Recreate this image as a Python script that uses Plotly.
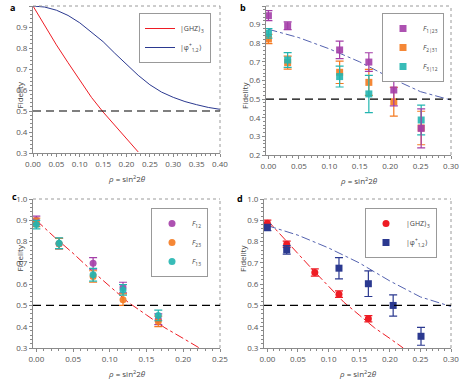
import plotly.graph_objects as go

W, H = 463, 379

# ---------------- data ----------------
# panel a (theory curves)
a_ghz_rho = [0, 0.025, 0.05, 0.075, 0.10, 0.125, 0.15, 0.175, 0.20, 0.225]
a_ghz_F = [1.0, 0.905, 0.815, 0.73, 0.645, 0.565, 0.495, 0.43, 0.37, 0.305]
a_phi_rho = [0, 0.025, 0.05, 0.075, 0.10, 0.125, 0.15, 0.175, 0.20, 0.225,
             0.25, 0.275, 0.30, 0.325, 0.35, 0.375, 0.40]
a_phi_F = [1.0, 0.995, 0.98, 0.955, 0.92, 0.875, 0.83, 0.775, 0.72, 0.67,
           0.625, 0.59, 0.565, 0.545, 0.53, 0.517, 0.508]

# panel b
b_rho = [0.0, 0.0316, 0.117, 0.165, 0.206, 0.251]
b_F1 = [0.948, 0.894, 0.764, 0.699, 0.549, 0.343]
b_F1_err = [0.027, 0.021, 0.047, 0.05, 0.085, 0.105]
b_F2 = [0.823, 0.696, 0.644, 0.590, 0.486, 0.345]
b_F2_err = [0.025, 0.035, 0.06, 0.07, 0.077, 0.09]
b_rho3 = [0.0, 0.0316, 0.117, 0.165, 0.251]
b_F3 = [0.853, 0.710, 0.621, 0.528, 0.388]
b_F3_err = [0.025, 0.04, 0.056, 0.1, 0.08]
b_th_rho = [0, 0.05, 0.10, 0.15, 0.20, 0.25, 0.30]
b_th_F = [0.875, 0.83, 0.77, 0.70, 0.615, 0.54, 0.495]

# panel c
c_rho = [0.0, 0.031, 0.0773, 0.118, 0.166]
c_F12 = [0.90, 0.79, 0.698, 0.584, 0.435]
c_F12_err = [0.02, 0.025, 0.027, 0.025, 0.025]
c_F23 = [0.89, 0.79, 0.636, 0.527, 0.425]
c_F23_err = [0.02, 0.025, 0.027, 0.027, 0.025]
c_F13 = [0.88, 0.792, 0.644, 0.573, 0.453]
c_F13_err = [0.02, 0.025, 0.03, 0.025, 0.025]
cd_th_rho = [0, 0.025, 0.05, 0.075, 0.10, 0.125, 0.15, 0.175, 0.20, 0.222]
cd_th_F = [0.9, 0.82, 0.745, 0.665, 0.59, 0.515, 0.455, 0.395, 0.345, 0.3]

# panel d
d_ghz_rho = [0.0, 0.0316, 0.0775, 0.117, 0.165]
d_ghz_F = [0.886, 0.7875, 0.655, 0.553, 0.4375]
d_ghz_err = [0.015, 0.015, 0.017, 0.015, 0.015]
d_phi_rho = [0.0, 0.0316, 0.117, 0.165, 0.2055, 0.251]
d_phi_F = [0.866, 0.761, 0.675, 0.602, 0.50, 0.355]
d_phi_err = [0.015, 0.02, 0.05, 0.06, 0.05, 0.042]

# ---------------- styles ----------------
PURPLE = "#a43ea8"
ORANGE = "#f47a20"
CYAN = "#22b5b0"
RED = "#ee1c24"
NAVY = "#2b3990"
LBLUE = "#5563b0"
FONT = "Open Sans"

fig = go.Figure()

def px(x):
    return x / W

def py(y):
    return 1 - y / H

panels = {
    "": dict(x=(33, 220), y=(6, 153), xr=[0, 0.4], yr=[0.3, 1.0]),
    "2": dict(x=(266, 451), y=(6, 155), xr=[-0.004, 0.3], yr=[0.2, 1.0]),
    "3": dict(x=(33, 220), y=(199, 348), xr=[-0.0045, 0.25], yr=[0.3, 1.0]),
    "4": dict(x=(264, 451), y=(199, 348), xr=[-0.0055, 0.3], yr=[0.3, 1.0]),
}

ax_common = dict(showline=True, linecolor="#8a8a8a", linewidth=1, ticks="outside",
                 ticklen=3, tickcolor="#8a8a8a", showgrid=False, zeroline=False,
                 tickfont=dict(family=FONT, size=8, color="#555555"),
                 minor=dict(ticks="outside", ticklen=2, tickcolor="#8a8a8a"))

layout = dict(width=W, height=H, margin=dict(l=0, r=0, t=0, b=0, autoexpand=False),
              plot_bgcolor="white", paper_bgcolor="white", showlegend=True)
for k, p in panels.items():
    layout["xaxis" + k] = dict(domain=[px(p["x"][0]), px(p["x"][1])], range=p["xr"],
                               anchor="y" + k, dtick=0.05, tickformat=".2f", **ax_common)
    layout["yaxis" + k] = dict(domain=[py(p["y"][1]), py(p["y"][0])], range=p["yr"],
                               anchor="x" + k, dtick=0.1, tickformat=".1f", **ax_common)
fig.update_layout(**layout)

shapes = []
annotations = []
for k, p in panels.items():
    x0, x1 = px(p["x"][0]), px(p["x"][1])
    y0, y1 = py(p["y"][1]), py(p["y"][0])
    # dotted top and right frame
    shapes.append(dict(type="line", xref="paper", yref="paper", x0=x0, x1=x1, y0=y1, y1=y1,
                       line=dict(color="#9a9a9a", width=1, dash="dot")))
    shapes.append(dict(type="line", xref="paper", yref="paper", x0=x1, x1=x1, y0=y0, y1=y1,
                       line=dict(color="#9a9a9a", width=1, dash="dot")))
    # dashed 0.5 line
    shapes.append(dict(type="line", xref="x%s domain" % k if k else "x domain",
                       yref="y" + k, x0=0, x1=1, y0=0.5, y1=0.5,
                       line=dict(color="black", width=1.2, dash="8px,5px")))
    # axis titles
    annotations.append(dict(text="Fidelity", xref="paper", yref="paper", x=x0 - 22 / W,
                            y=(y0 + y1) / 2, textangle=-90, showarrow=False,
                            font=dict(family=FONT, size=8, color="#444444")))
    annotations.append(dict(text="<i>ρ</i> = sin<sup>2</sup>2<i>θ</i>", xref="paper", yref="paper",
                            x=(x0 + x1) / 2, y=y0 - 25 / H, showarrow=False,
                            xanchor="center", yanchor="middle",
                            font=dict(family=FONT, size=8, color="#444444")))

for letter, (lx, ly) in zip("abcd", [(12, 7), (243, 7), (14, 196), (240, 198)]):
    annotations.append(dict(text="<b>%s</b>" % letter, xref="paper", yref="paper",
                            x=px(lx), y=py(ly), showarrow=False, xanchor="center", yanchor="middle",
                            font=dict(family=FONT, size=9, color="black")))

fig.update_layout(shapes=shapes, annotations=annotations)

# ---------------- traces ----------------
# panel a
fig.add_trace(go.Scatter(x=a_ghz_rho, y=a_ghz_F, mode="lines", line=dict(color=RED, width=1),
                         name="|GHZ⟩<sub>3</sub>", xaxis="x", yaxis="y", legend="legend"))
fig.add_trace(go.Scatter(x=a_phi_rho, y=a_phi_F, mode="lines", line=dict(color=NAVY, width=1),
                         name="|φ<sup>+</sup><sub>1,2</sub>⟩", xaxis="x", yaxis="y", legend="legend"))

# panel b
fig.add_trace(go.Scatter(x=b_th_rho, y=b_th_F, mode="lines", line=dict(color=LBLUE, width=1, dash="dashdot"),
                         showlegend=False, xaxis="x2", yaxis="y2"))
def eb(err, color):
    return dict(type="data", array=err, visible=True, color=color, thickness=1.2, width=4)

for xs, ys, es, col, nm, rk in [(b_rho, b_F2, b_F2_err, ORANGE, "<i>F</i><sub>2|31</sub>", 2),
                                (b_rho3, b_F3, b_F3_err, CYAN, "<i>F</i><sub>3|12</sub>", 3),
                                (b_rho, b_F1, b_F1_err, PURPLE, "<i>F</i><sub>1|23</sub>", 1)]:
    fig.add_trace(go.Scatter(x=xs, y=ys, mode="markers", error_y=eb(es, col),
                             marker=dict(symbol="square", size=7, color=col, opacity=0.9),
                             name=nm, legendrank=rk, xaxis="x2", yaxis="y2", legend="legend2"))

# panel c
fig.add_trace(go.Scatter(x=cd_th_rho, y=cd_th_F, mode="lines", line=dict(color=RED, width=1, dash="dashdot"),
                         showlegend=False, xaxis="x3", yaxis="y3"))
for ys, es, col, nm in [(c_F12, c_F12_err, PURPLE, "<i>F</i><sub>12</sub>"),
                        (c_F23, c_F23_err, ORANGE, "<i>F</i><sub>23</sub>"),
                        (c_F13, c_F13_err, CYAN, "<i>F</i><sub>13</sub>")]:
    fig.add_trace(go.Scatter(x=c_rho, y=ys, mode="markers", error_y=eb(es, col),
                             marker=dict(symbol="circle", size=7, color=col, opacity=0.9),
                             name=nm, xaxis="x3", yaxis="y3", legend="legend3"))

# panel d
fig.add_trace(go.Scatter(x=cd_th_rho, y=cd_th_F, mode="lines", line=dict(color=RED, width=1, dash="dashdot"),
                         showlegend=False, xaxis="x4", yaxis="y4"))
fig.add_trace(go.Scatter(x=b_th_rho, y=b_th_F, mode="lines", line=dict(color=LBLUE, width=1, dash="dashdot"),
                         showlegend=False, xaxis="x4", yaxis="y4"))
fig.add_trace(go.Scatter(x=d_ghz_rho, y=d_ghz_F, mode="markers", error_y=eb(d_ghz_err, RED),
                         marker=dict(symbol="circle", size=7, color=RED),
                         name="|GHZ⟩<sub>3</sub>", xaxis="x4", yaxis="y4", legend="legend4"))
fig.add_trace(go.Scatter(x=d_phi_rho, y=d_phi_F, mode="markers", error_y=eb(d_phi_err, NAVY),
                         marker=dict(symbol="square", size=7, color=NAVY),
                         name="|φ<sup>+</sup><sub>1,2</sub>⟩", xaxis="x4", yaxis="y4", legend="legend4"))

leg_common = dict(bgcolor="white", bordercolor="#999999", borderwidth=1,
                  font=dict(family=FONT, size=7, color="#444444"),
                  xanchor="right", yanchor="top", itemwidth=30, tracegroupgap=0)
fig.update_layout(
    legend=dict(x=px(211), y=py(13), **leg_common),
    legend2=dict(x=px(444), y=py(13), **leg_common),
    legend3=dict(x=px(208), y=py(208), **leg_common),
    legend4=dict(x=px(437), y=py(208), **leg_common),
)

fig.write_html("out.html", config={"displayModeBar": False},
               post_script="document.body.style.margin='0';")
